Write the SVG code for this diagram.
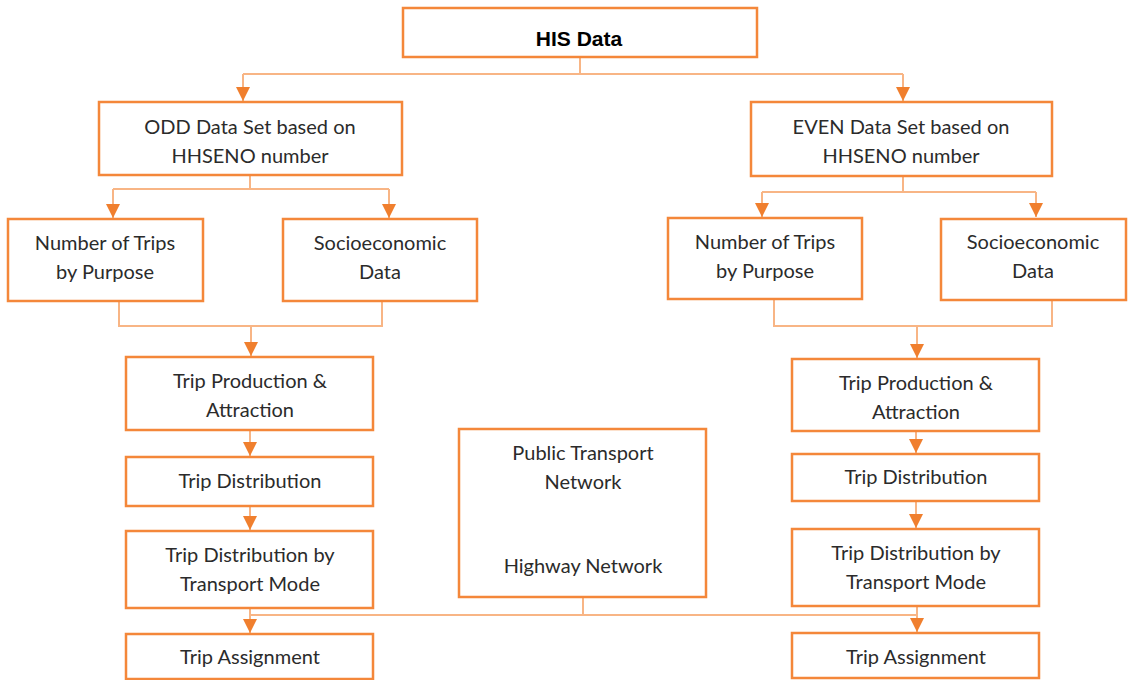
<svg xmlns="http://www.w3.org/2000/svg" width="1132" height="680" viewBox="0 0 1132 680">
<defs>
<style>
.box{fill:#fff;stroke:#F4873A;stroke-width:2.5}
.t{font-family:Lato,"Open Sans",sans-serif;font-size:20px;fill:#2b2b2b;text-anchor:middle}
.h{font-family:"Liberation Sans",Arial,sans-serif;font-size:21px;font-weight:bold;fill:#000;text-anchor:middle}
.c{fill:none;stroke:#F8B585;stroke-width:2}
</style>
<marker id="a" markerUnits="userSpaceOnUse" markerWidth="16" markerHeight="16" viewBox="0 0 16 16" refX="15" refY="8" orient="auto">
<path d="M1,1 L15,8 L1,15 Z" fill="#F07F2E"/>
</marker>
</defs>
<rect width="1132" height="680" fill="#fff"/>
<g id="connectors">
<path class="c" d="M580,57 V74"/>
<path class="c" d="M243,74 H903"/>
<path class="c" d="M243,74 V101" marker-end="url(#a)"/>
<path class="c" d="M903,74 V101" marker-end="url(#a)"/>
<path class="c" d="M250,175 V189"/>
<path class="c" d="M113,189 H389"/>
<path class="c" d="M113,189 V218" marker-end="url(#a)"/>
<path class="c" d="M389,189 V218" marker-end="url(#a)"/>
<path class="c" d="M903,176 V192"/>
<path class="c" d="M762,192 H1036"/>
<path class="c" d="M762,192 V217" marker-end="url(#a)"/>
<path class="c" d="M1036,192 V217" marker-end="url(#a)"/>
<path class="c" d="M119,301 V326 H382 V301"/>
<path class="c" d="M251,326 V356" marker-end="url(#a)"/>
<path class="c" d="M774,300 V326 H1052 V300"/>
<path class="c" d="M917,326 V358" marker-end="url(#a)"/>
<path class="c" d="M250,430 V456" marker-end="url(#a)"/>
<path class="c" d="M250,506 V530" marker-end="url(#a)"/>
<path class="c" d="M916,431 V453" marker-end="url(#a)"/>
<path class="c" d="M916,501 V528" marker-end="url(#a)"/>
<path class="c" d="M583,597 V615"/>
<path class="c" d="M250,615 H917"/>
<path class="c" d="M250,608 V633" marker-end="url(#a)"/>
<path class="c" d="M917,606 V632" marker-end="url(#a)"/>
</g>
<g id="his"><rect class="box" x="403" y="8" width="354" height="49"/><text class="h" x="579" y="46">HIS Data</text></g>
<g id="odd"><rect class="box" x="99" y="102" width="303" height="73"/><text class="t" x="250" y="134">ODD Data Set based on</text><text class="t" x="250" y="163">HHSENO number</text></g>
<g id="even"><rect class="box" x="751" y="102" width="301" height="74"/><text class="t" x="901" y="134">EVEN Data Set based on</text><text class="t" x="901" y="163">HHSENO number</text></g>
<g id="trips-odd"><rect class="box" x="8" y="219" width="195" height="82"/><text class="t" x="105" y="250">Number of Trips</text><text class="t" x="105" y="279">by Purpose</text></g>
<g id="socio-odd"><rect class="box" x="283" y="219" width="194" height="82"/><text class="t" x="380" y="250">Socioeconomic</text><text class="t" x="380" y="279">Data</text></g>
<g id="trips-even"><rect class="box" x="668" y="218" width="194" height="81"/><text class="t" x="765" y="249">Number of Trips</text><text class="t" x="765" y="278">by Purpose</text></g>
<g id="socio-even"><rect class="box" x="941" y="219" width="185" height="81"/><text class="t" x="1033" y="249">Socioeconomic</text><text class="t" x="1033" y="278">Data</text></g>
<g id="tpa-odd"><rect class="box" x="126" y="357" width="247" height="73"/><text class="t" x="250" y="388">Trip Production &amp;</text><text class="t" x="250" y="417">Attraction</text></g>
<g id="tpa-even"><rect class="box" x="792" y="359" width="247" height="72"/><text class="t" x="916" y="390">Trip Production &amp;</text><text class="t" x="916" y="419">Attraction</text></g>
<g id="td-odd"><rect class="box" x="126" y="457" width="247" height="49"/><text class="t" x="250" y="488">Trip Distribution</text></g>
<g id="td-even"><rect class="box" x="792" y="454" width="247" height="47"/><text class="t" x="916" y="484">Trip Distribution</text></g>
<g id="tdm-odd"><rect class="box" x="126" y="531" width="247" height="77"/><text class="t" x="250" y="562">Trip Distribution by</text><text class="t" x="250" y="591">Transport Mode</text></g>
<g id="tdm-even"><rect class="box" x="792" y="529" width="247" height="77"/><text class="t" x="916" y="560">Trip Distribution by</text><text class="t" x="916" y="589">Transport Mode</text></g>
<g id="network"><rect class="box" x="459" y="429" width="247" height="168"/><text class="t" x="583" y="460">Public Transport</text><text class="t" x="583" y="489">Network</text><text class="t" x="583" y="573">Highway Network</text></g>
<g id="ta-odd"><rect class="box" x="126" y="634" width="247" height="45"/><text class="t" x="250" y="664">Trip Assignment</text></g>
<g id="ta-even"><rect class="box" x="792" y="633" width="247" height="45"/><text class="t" x="916" y="664">Trip Assignment</text></g>
</svg>
